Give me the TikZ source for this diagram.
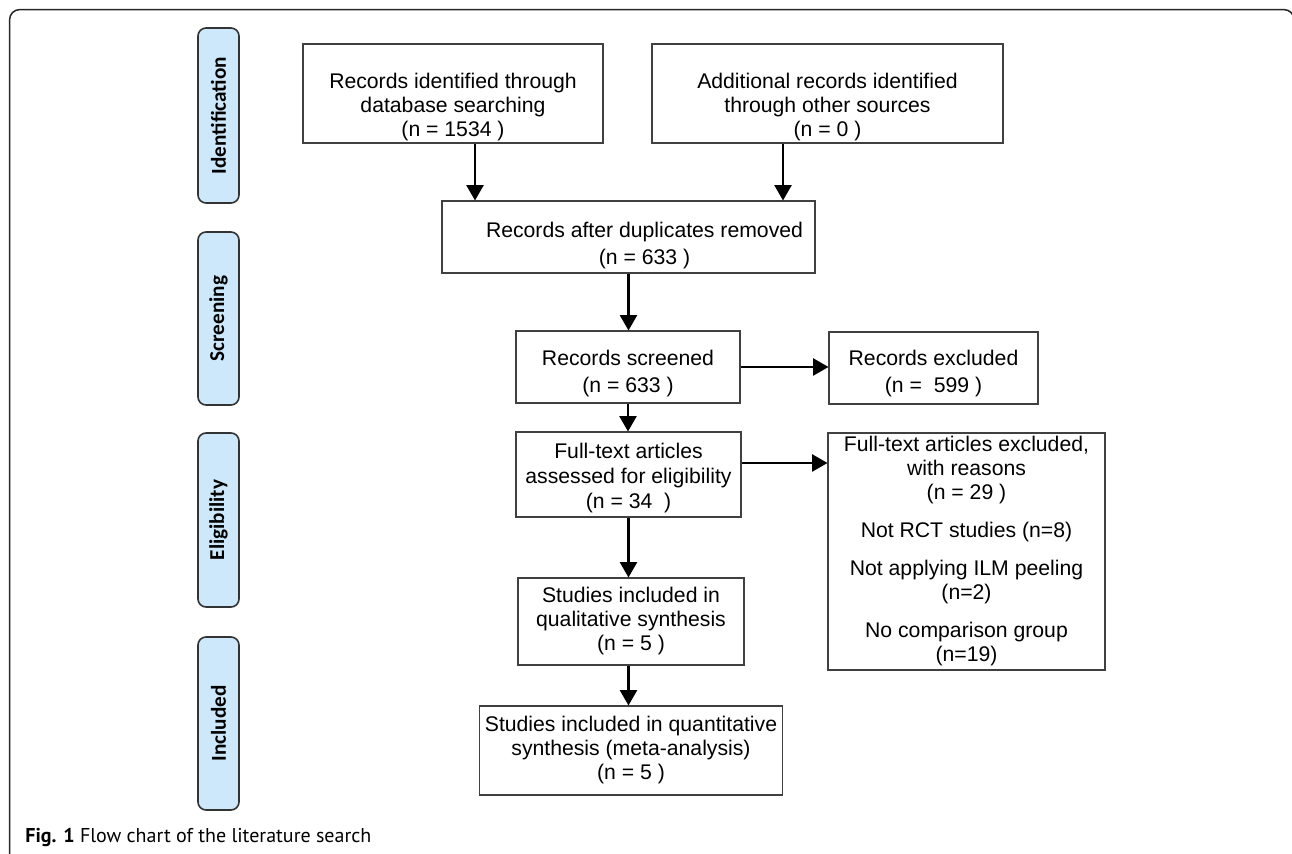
\documentclass[tikz,border=0pt]{standalone}
\usepackage{fontspec}
\setmainfont{Liberation Sans}
\newfontfamily\phasefont{Carlito}
\newfontfamily\capfont{PT Sans}
\usepackage{tikz}
\usetikzlibrary{arrows}
\definecolor{phaseblue}{RGB}{204,232,250}
\newcommand{\topgap}[1]{\rule{0pt}{#1}}
\tikzstyle{es} = [-triangle 60, line width=1.1pt]
\tikzstyle{box} = [draw=black!75, line width=0.6pt, align=center, inner sep=0pt, font=\fontsize{10.6}{12}\selectfont]
\tikzstyle{phase} = [draw=black!80, line width=0.8pt, fill=phaseblue, rounded corners=4pt, rotate=90, inner sep=0pt, minimum height=20.5pt, font=\phasefont\bfseries\fontsize{10.6}{13}\selectfont]

\begin{document}
\begin{tikzpicture}[yscale=-1]
			\useasboundingbox (0pt,0pt) rectangle (646pt,427pt);
			\clip (0pt,0pt) rectangle (646pt,427pt);
			% frame round the figure
			\draw[line width=0.75pt, black!85, rounded corners=5pt] (4.8pt,440pt) -- (4.8pt,4.8pt) -- (647pt,4.8pt) -- (647pt,440pt);
			% phases
			\node[phase, minimum width=87.5pt] (ident) at (109.25pt,57.75pt) {Identification};
			\node[phase, minimum width=86.5pt] (screen) at (109.25pt,159.25pt) {Screening};
			\node[phase, minimum width=87pt] (elig) at (109.25pt,260pt) {Eligibility};
			\node[phase, minimum width=86.5pt] (incl) at (109.25pt,361.75pt) {Included};
			% boxes
			\node[box, minimum width=150pt, minimum height=49.5pt] (db) at (226.5pt,46.75pt) {\topgap{21.5pt}Records identified through\\database searching\\(n = 1534 )};
			\node[box, minimum width=175.5pt, minimum height=49.5pt] (other) at (413.75pt,46.75pt) {\topgap{21.5pt}Additional records identified\\through other sources\\(n = 0 )};
			\node[box, minimum width=186.5pt, minimum height=36pt] (dup) at (314.25pt,118.5pt) {\hspace*{16pt}\topgap{16pt}Records after duplicates removed\\[1.5pt]\hspace*{16pt}(n = 633 )};
			\node[box, minimum width=112pt, minimum height=36pt] (screened) at (314pt,183.5pt) {\topgap{14pt}Records screened\\[1.5pt](n = 633 )};
			\node[box, minimum width=104.5pt, minimum height=36pt] (excl) at (466.75pt,184pt) {\topgap{13pt}Records excluded\\[1.5pt](n =\ \ 599 )};
			\node[box, minimum width=112.5pt, minimum height=42.5pt] (fulltext) at (314.25pt,237.25pt) {\topgap{11.5pt}Full-text articles\\[0.5pt]assessed for eligibility\\[0.5pt](n = 34\ \ )};
			\node[box, minimum width=138.5pt, minimum height=118.5pt] (ftexcl) at (483.25pt,275.75pt) {Full-text articles excluded,\\with reasons\\(n = 29 )\\[7pt]Not RCT studies (n=8)\\[7pt]Not applying ILM peeling\\(n=2)\\[7pt]No comparison group\\(n=19)};
			\node[box, minimum width=113pt, minimum height=43.5pt] (qual) at (315.5pt,310.75pt) {Studies included in\\qualitative synthesis\\(n = 5 )};
			\node[box, inner xsep=2.5pt, minimum height=44.5pt] (quant) at (315.5pt,375.25pt) {Studies included in quantitative\\synthesis (meta-analysis)\\(n = 5 )};
			% arrows
			\coordinate (dbdrop) at (237.5pt,0pt);
			\coordinate (otherdrop) at (391.5pt,0pt);
			\coordinate (ftside) at (0pt,231.5pt);
			\draw[es] (dbdrop |- db.south) -- (dbdrop |- dup.north);
			\draw[es] (otherdrop |- other.south) -- (otherdrop |- dup.north);
			\draw[es] (dup.south) -- (dup.south |- screened.north);
			\draw[es] (screened.east) -- (screened.east -| excl.west);
			\draw[es] (screened.south) -- (screened.south |- fulltext.north);
			\draw[es] (ftside -| fulltext.east) -- (ftside -| ftexcl.west);
			\draw[es] (fulltext.south) -- (fulltext.south |- qual.north);
			\draw[es] (fulltext.south |- qual.south) -- (fulltext.south |- quant.north);
			% caption
			\node[anchor=west, inner sep=0pt, font=\capfont\fontsize{10}{12}\selectfont] (caption) at (12.5pt,419pt) {\textbf{Fig. 1} Flow chart of the literature search};
		\end{tikzpicture}
\end{document}
